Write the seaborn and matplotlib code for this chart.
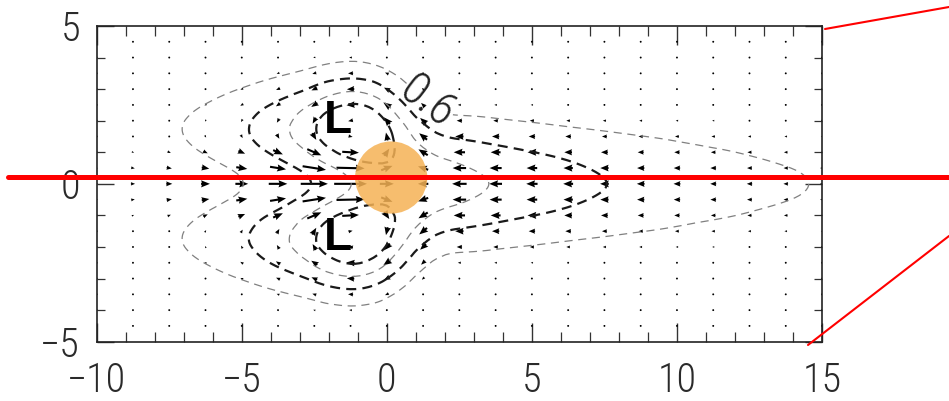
import numpy as np
import matplotlib
matplotlib.use("Agg")
import matplotlib.pyplot as plt
import matplotlib.tri as mtri
import seaborn as sns
from matplotlib.lines import Line2D
from matplotlib.transforms import blended_transform_factory

# ---- grid (upper half; the pattern is symmetric about the equator) ----
x_grid = [-10.0, -8.75, -7.5, -6.25, -5.0, -3.75, -2.5, -1.25, 0.0, 1.25, 2.5,
          3.75, 5.0, 6.25, 7.5, 8.75, 10.0, 11.25, 12.5, 13.75, 15.0]
y_half = [0.0, 0.5, 1.0, 1.5, 2.0, 2.5, 3.0, 3.5, 4.0, 4.5]

# zonal wind u, one row per latitude in y_half
u_half = [
    [0.20, 0.29, 0.42, 0.61, 0.88, 1.28, 1.87, 2.26, 0.96, -0.72, -1.00, -0.88, -0.78, -0.68, -0.60, -0.53, -0.47, -0.41, -0.37, -0.32, -0.29],
    [0.17, 0.25, 0.36, 0.52, 0.76, 1.10, 1.61, 1.94, 0.78, -0.70, -0.93, -0.83, -0.73, -0.64, -0.57, -0.50, -0.44, -0.39, -0.34, -0.30, -0.27],
    [0.10, 0.15, 0.22, 0.31, 0.46, 0.67, 0.97, 1.15, 0.34, -0.64, -0.78, -0.68, -0.60, -0.53, -0.47, -0.41, -0.37, -0.32, -0.29, -0.25, -0.22],
    [0.03, 0.04, 0.06, 0.09, 0.13, 0.18, 0.27, 0.28, -0.12, -0.54, -0.57, -0.50, -0.44, -0.39, -0.34, -0.30, -0.27, -0.24, -0.21, -0.18, -0.16],
    [-0.02, -0.04, -0.05, -0.07, -0.11, -0.16, -0.23, -0.33, -0.41, -0.41, -0.37, -0.32, -0.29, -0.25, -0.22, -0.20, -0.17, -0.15, -0.13, -0.12, -0.10],
    [-0.04, -0.07, -0.09, -0.14, -0.20, -0.29, -0.42, -0.56, -0.48, -0.28, -0.21, -0.18, -0.16, -0.14, -0.13, -0.11, -0.10, -0.09, -0.08, -0.07, -0.06],
    [-0.04, -0.06, -0.09, -0.13, -0.19, -0.27, -0.39, -0.51, -0.39, -0.17, -0.10, -0.09, -0.08, -0.07, -0.06, -0.06, -0.05, -0.04, -0.04, -0.03, -0.03],
    [-0.03, -0.04, -0.06, -0.09, -0.13, -0.19, -0.27, -0.35, -0.25, -0.09, -0.05, -0.04, -0.04, -0.03, -0.03, -0.02, -0.02, -0.02, -0.02, -0.02, -0.01],
    [-0.02, -0.02, -0.03, -0.05, -0.07, -0.10, -0.15, -0.19, -0.13, -0.04, -0.02, -0.02, -0.01, -0.01, -0.01, -0.01, -0.01, -0.01, -0.01, -0.01, -0.01],
    [-0.01, -0.01, -0.02, -0.02, -0.03, -0.05, -0.07, -0.09, -0.06, -0.02, -0.01, -0.01, 0.00, 0.00, 0.00, 0.00, 0.00, 0.00, 0.00, 0.00, 0.00],
]

# meridional wind v
v_half = [
    [0.00] * 21,
    [-0.02, -0.04, -0.05, -0.08, -0.11, -0.16, -0.23, -0.04, 0.28, 0.22] + [0.00] * 11,
    [-0.04, -0.06, -0.09, -0.13, -0.18, -0.27, -0.39, -0.06, 0.46, 0.37] + [0.00] * 11,
    [-0.04, -0.07, -0.09, -0.14, -0.20, -0.29, -0.43, -0.06, 0.50, 0.41] + [0.00] * 11,
    [-0.04, -0.06, -0.08, -0.12, -0.17, -0.25, -0.37, -0.06, 0.43, 0.35] + [0.00] * 11,
    [-0.03, -0.04, -0.06, -0.08, -0.12, -0.18, -0.26, -0.04, 0.31, 0.25] + [0.00] * 11,
    [-0.02, -0.02, -0.04, -0.05, -0.07, -0.11, -0.16, -0.02, 0.19, 0.15] + [0.00] * 11,
    [-0.01, -0.01, -0.02, -0.03, -0.04, -0.06, -0.08, -0.01, 0.10, 0.08] + [0.00] * 11,
    [0.00, -0.01, -0.01, -0.01, -0.02, -0.03, -0.04, -0.01, 0.04, 0.03] + [0.00] * 11,
    [0.00, 0.00, 0.00, 0.00, -0.01, -0.01, -0.01, 0.00, 0.02, 0.01] + [0.00] * 11,
]

# pressure depression (positive = low)
p_half = [
    [0.13, 0.19, 0.28, 0.40, 0.59, 0.86, 1.24, 1.79, 2.22, 2.23, 1.99, 1.76, 1.55, 1.37, 1.21, 1.07, 0.94, 0.83, 0.73, 0.65, 0.57],
    [0.15, 0.22, 0.33, 0.47, 0.69, 1.00, 1.46, 2.05, 2.33, 2.15, 1.87, 1.65, 1.46, 1.29, 1.13, 1.00, 0.88, 0.78, 0.69, 0.61, 0.54],
    [0.20, 0.30, 0.43, 0.63, 0.92, 1.33, 1.94, 2.62, 2.53, 1.90, 1.55, 1.37, 1.21, 1.07, 0.94, 0.83, 0.73, 0.65, 0.57, 0.50, 0.44],
    [0.24, 0.35, 0.51, 0.75, 1.09, 1.58, 2.30, 3.04, 2.59, 1.53, 1.13, 1.00, 0.88, 0.78, 0.69, 0.61, 0.54, 0.47, 0.42, 0.37, 0.32],
    [0.24, 0.35, 0.51, 0.74, 1.08, 1.57, 2.29, 2.98, 2.34, 1.12, 0.73, 0.65, 0.57, 0.50, 0.44, 0.39, 0.35, 0.31, 0.27, 0.24, 0.21],
    [0.20, 0.29, 0.42, 0.61, 0.89, 1.30, 1.89, 2.44, 1.82, 0.73, 0.42, 0.37, 0.32, 0.29, 0.25, 0.22, 0.20, 0.17, 0.15, 0.14, 0.12],
    [0.14, 0.20, 0.29, 0.43, 0.62, 0.90, 1.31, 1.69, 1.21, 0.42, 0.21, 0.19, 0.16, 0.14, 0.13, 0.11, 0.10, 0.09, 0.08, 0.07, 0.06],
    [0.08, 0.12, 0.17, 0.25, 0.36, 0.53, 0.77, 0.99, 0.70, 0.22, 0.09, 0.08, 0.07, 0.06, 0.06, 0.05, 0.04, 0.04, 0.03, 0.03, 0.03],
    [0.04, 0.06, 0.09, 0.13, 0.18, 0.27, 0.39, 0.50, 0.34, 0.10, 0.04, 0.03, 0.03, 0.03, 0.02, 0.02, 0.02, 0.02, 0.01, 0.01, 0.01],
    [0.02, 0.03, 0.04, 0.05, 0.08, 0.12, 0.17, 0.21, 0.15, 0.04, 0.01, 0.01, 0.01, 0.01, 0.01, 0.01, 0.01, 0.01, 0.00, 0.00, 0.00],
]

thin_levels = [0.6, 1.8]
bold_levels = [1.2, 2.4]
low_labels = [("L", -1.7, 2.0), ("L", -1.7, -1.7)]
heat_x, heat_y = [0.15], [0.2]
x_ticks = [-10, -5, 0, 5, 10, 15]
y_ticks = [-5, 0, 5]

# ---- build the full (both hemispheres) fields ----
y_half_a = np.array(y_half)
y_full = np.concatenate([-y_half_a[:0:-1], y_half_a])
u_h, v_h, p_h = np.array(u_half), np.array(v_half), np.array(p_half)
U = np.vstack([u_h[:0:-1], u_h])
V = np.vstack([-v_h[:0:-1], v_h])
P = np.vstack([p_h[:0:-1], p_h])
X, Y = np.meshgrid(np.array(x_grid), y_full)

sns.set_theme(style="white")
thin_font = ["Roboto Condensed", "Roboto", "DejaVu Sans"]
plt.rcParams["font.family"] = thin_font
plt.rcParams["font.weight"] = "light"

fig = plt.figure(figsize=(9.49, 4.01), dpi=100)
ax = fig.add_axes([0.1019, 0.1479, 0.7643, 0.7873])

ax.quiver(X, Y, U, V, angles="xy", scale_units="xy", scale=2.0, pivot="middle",
          color="black", width=0.0029, headwidth=3.4, headlength=4.2,
          headaxislength=3.8, zorder=2)

# smooth contouring of the pressure grid on a refined triangulation
triang = mtri.Triangulation(X.ravel(), Y.ravel())
refiner = mtri.UniformTriRefiner(triang)
tri_f, p_f = refiner.refine_field(P.ravel(), subdiv=3)

cs_thin = ax.tricontour(tri_f, p_f, levels=thin_levels, colors="#808080",
                        linewidths=0.9, linestyles=[(0, (6.5, 4.5))], zorder=3)
ax.tricontour(tri_f, p_f, levels=bold_levels, colors="#1a1a1a",
              linewidths=1.6, linestyles=[(0, (4.5, 2.8))], zorder=3)
lbls = ax.clabel(cs_thin, levels=[thin_levels[0]], fmt="%.1f", inline=True,
                 inline_spacing=1, fontsize=34, colors="#222222",
                 manual=[(1.3, 2.5)])
for t in lbls:
    t.set_fontfamily(thin_font)
    t.set_fontweight("light")

sns.scatterplot(x=heat_x, y=heat_y, s=2700, color="#F5B255", alpha=0.85,
                edgecolor="none", ax=ax, zorder=4, legend=False)

for txt, lx, ly in low_labels:
    ax.text(lx, ly, txt, ha="center", va="center", fontsize=33,
            family=["Liberation Sans", "DejaVu Sans"], weight="bold",
            color="black", zorder=5)

ax.set_xlim(-10, 15)
ax.set_ylim(-5, 5)
ax.set_xticks(x_ticks)
ax.set_xticks(np.arange(-10, 16, 1), minor=True)
ax.set_yticks(y_ticks)
ax.set_yticks(np.arange(-5, 6, 1), minor=True)
ax.set_xticklabels([str(v).replace("-", "\u2212") for v in x_ticks])
ax.set_yticklabels([str(v).replace("-", "\u2212") for v in y_ticks])
ax.tick_params(axis="x", which="major", direction="in", length=14, width=1.0,
               top=True, bottom=True, color="#333333", pad=14,
               labelsize=29, labelcolor="#2a2a2a")
ax.tick_params(axis="x", which="minor", direction="in", length=7, width=0.9,
               top=True, bottom=True, color="#333333")
ax.tick_params(axis="y", which="major", direction="in", length=12, width=1.0,
               left=True, right=True, color="#333333", pad=12,
               labelsize=29, labelcolor="#2a2a2a")
ax.tick_params(axis="y", which="minor", direction="in", length=5.5, width=0.9,
               left=True, right=True, color="#333333")
for lab in ax.get_xticklabels() + ax.get_yticklabels():
    lab.set_fontweight("light")
for sp in ax.spines.values():
    sp.set_color("#222222")
    sp.set_linewidth(1.2)
    sp.set_visible(True)

# red guide lines
trans = blended_transform_factory(fig.transFigure, ax.transData)
fig.add_artist(Line2D([8 / 949, 1.0], [0.22, 0.22], transform=trans,
                      color="#ff0000", lw=3.6, zorder=10, clip_on=False))
fig.add_artist(Line2D([825 / 949, 1.0], [1 - 29 / 401, 1 - 7 / 401],
                      transform=fig.transFigure, color="#ff0000", lw=1.5))
fig.add_artist(Line2D([808 / 949, 1.0], [1 - 345 / 401, 1 - 236 / 401],
                      transform=fig.transFigure, color="#ff0000", lw=1.5))

fig.savefig("out.png", dpi=100, facecolor="white")
